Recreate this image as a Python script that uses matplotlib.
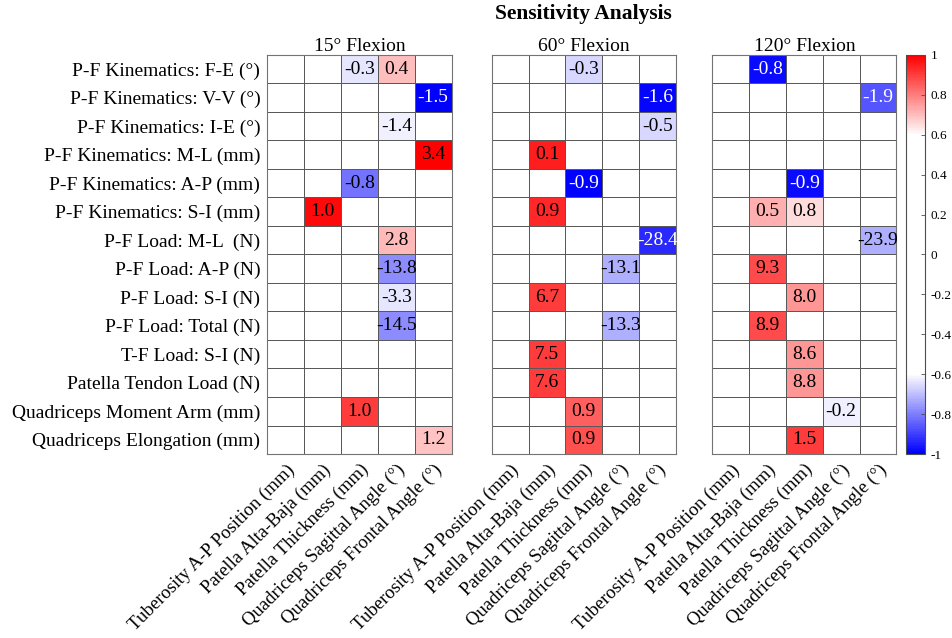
import numpy as np
import matplotlib
matplotlib.use("Agg")
import matplotlib.pyplot as plt
from matplotlib.colors import LinearSegmentedColormap

plt.rcParams['font.family'] = ['Liberation Serif', 'DejaVu Serif']

rows = ["P-F Kinematics: F-E (°)", "P-F Kinematics: V-V (°)", "P-F Kinematics: I-E (°)",
        "P-F Kinematics: M-L (mm)", "P-F Kinematics: A-P (mm)", "P-F Kinematics: S-I (mm)",
        "P-F Load: M-L  (N)", "P-F Load: A-P (N)", "P-F Load: S-I (N)", "P-F Load: Total (N)",
        "T-F Load: S-I (N)", "Patella Tendon Load (N)", "Quadriceps Moment Arm (mm)",
        "Quadriceps Elongation (mm)"]
cols = ["Tuberosity A-P Position (mm)", "Patella Alta-Baja (mm)", "Patella Thickness (mm)",
        "Quadriceps Sagittal Angle (°)", "Quadriceps Frontal Angle (°)"]
panels = ["15° Flexion", "60° Flexion", "120° Flexion"]

n = np.nan
# correlation (colour) per panel, rows x cols
r_15 = [[n, n, -0.64, 0.70, n],
        [n, n, n, n, -1.0],
        [n, n, n, -0.62, n],
        [n, n, n, n, 1.0],
        [n, n, -0.82, n, n],
        [n, 0.98, n, n, n],
        [n, n, n, 0.71, n],
        [n, n, n, -0.78, n],
        [n, n, n, -0.64, n],
        [n, n, n, -0.78, n],
        [n, n, n, n, n],
        [n, n, n, n, n],
        [n, n, 0.90, n, n],
        [n, n, n, n, 0.69]]
r_60 = [[n, n, -0.66, n, n],
        [n, n, n, n, -0.99],
        [n, n, n, n, -0.66],
        [n, 0.95, n, n, n],
        [n, n, -1.0, n, n],
        [n, 0.93, n, n, n],
        [n, n, n, n, -0.93],
        [n, n, n, -0.72, n],
        [n, 0.90, n, n, n],
        [n, n, n, -0.72, n],
        [n, 0.90, n, n, n],
        [n, 0.90, n, n, n],
        [n, n, 0.85, n, n],
        [n, n, 0.87, n, n]]
r_120 = [[n, -0.98, n, n, n],
         [n, n, n, n, -0.86],
         [n, n, n, n, n],
         [n, n, n, n, n],
         [n, n, -0.98, n, n],
         [n, 0.72, 0.65, n, n],
         [n, n, n, n, -0.72],
         [n, 0.88, n, n, n],
         [n, n, 0.76, n, n],
         [n, 0.88, n, n, n],
         [n, n, 0.76, n, n],
         [n, n, 0.76, n, n],
         [n, n, n, -0.62, n],
         [n, n, 0.90, n, n]]

# sensitivity values printed in the cells
v_15 = [[n, n, -0.3, 0.4, n],
        [n, n, n, n, -1.5],
        [n, n, n, -1.4, n],
        [n, n, n, n, 3.4],
        [n, n, -0.8, n, n],
        [n, 1.0, n, n, n],
        [n, n, n, 2.8, n],
        [n, n, n, -13.8, n],
        [n, n, n, -3.3, n],
        [n, n, n, -14.5, n],
        [n, n, n, n, n],
        [n, n, n, n, n],
        [n, n, 1.0, n, n],
        [n, n, n, n, 1.2]]
v_60 = [[n, n, -0.3, n, n],
        [n, n, n, n, -1.6],
        [n, n, n, n, -0.5],
        [n, 0.1, n, n, n],
        [n, n, -0.9, n, n],
        [n, 0.9, n, n, n],
        [n, n, n, n, -28.4],
        [n, n, n, -13.1, n],
        [n, 6.7, n, n, n],
        [n, n, n, -13.3, n],
        [n, 7.5, n, n, n],
        [n, 7.6, n, n, n],
        [n, n, 0.9, n, n],
        [n, n, 0.9, n, n]]
v_120 = [[n, -0.8, n, n, n],
         [n, n, n, n, -1.9],
         [n, n, n, n, n],
         [n, n, n, n, n],
         [n, n, -0.9, n, n],
         [n, 0.5, 0.8, n, n],
         [n, n, n, n, -23.9],
         [n, 9.3, n, n, n],
         [n, n, 8.0, n, n],
         [n, 8.9, n, n, n],
         [n, n, 8.6, n, n],
         [n, n, 8.8, n, n],
         [n, n, n, -0.2, n],
         [n, n, 1.5, n, n]]

cmap = LinearSegmentedColormap.from_list(
    "bwr_thr", [(0.0, "#0000ff"), (0.2, "#ffffff"), (0.8, "#ffffff"), (1.0, "#ff0000")])

fig = plt.figure(figsize=(9.53, 6.38), dpi=100)
lefts = [0.2805, 0.5160, 0.7474]
w, bot, h = 0.1933, 0.2884, 0.6254

for k, (r, v) in enumerate(zip([r_15, r_60, r_120], [v_15, v_60, v_120])):
    ax = fig.add_axes([lefts[k], bot, w, h])
    r = np.array(r, dtype=float)
    v = np.array(v, dtype=float)
    mesh = ax.pcolormesh(np.nan_to_num(r, nan=0.0), cmap=cmap, vmin=-1, vmax=1,
                         edgecolors="0.35", linewidth=0.6)
    for i in range(r.shape[0]):
        for j in range(r.shape[1]):
            if not np.isnan(v[i, j]):
                c = "white" if r[i, j] < -0.84 else "black"
                ax.text(j + 0.5, i + 0.5, f"{v[i, j]:.1f}", ha="center", va="center",
                        fontsize=14, color=c)
    ax.set_xlim(0, 5)
    ax.set_ylim(14, 0)
    ax.set_title(panels[k], fontsize=14, pad=3)
    ax.set_xticks(np.arange(5) + 0.5)
    ax.set_xticklabels(cols, rotation=45, ha="right", rotation_mode="anchor", fontsize=13.5)
    ax.set_yticks(np.arange(14) + 0.5)
    if k == 0:
        ax.set_yticklabels(rows, fontsize=14)
    else:
        ax.set_yticklabels([])
    ax.tick_params(length=0, pad=5)
    for s in ax.spines.values():
        s.set_color("0.45")
        s.set_linewidth(0.8)

cax = fig.add_axes([0.9507, bot, 0.02, h])
cb = fig.colorbar(mesh, cax=cax, ticks=np.linspace(-1, 1, 11))
cb.ax.set_yticklabels(["-1", "-0.8", "-0.6", "-0.4", "-0.2", "0", "0.2", "0.4", "0.6", "0.8", "1"])
cb.ax.tick_params(labelsize=9.5, length=3, width=0.6, color="0.3", direction="in", pad=4)
cb.outline.set_edgecolor("0.3")

fig.suptitle("Sensitivity Analysis", x=0.612, y=0.993, fontsize=15.5, fontweight="bold")

fig.savefig("out.png", dpi=100)
